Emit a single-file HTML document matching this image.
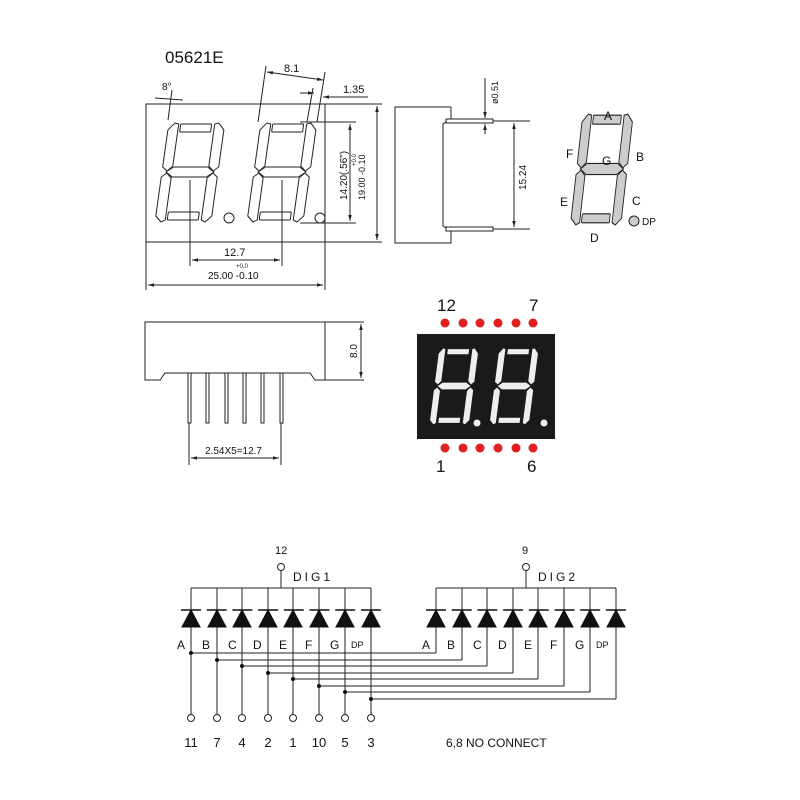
<!DOCTYPE html>
<html><head><meta charset="utf-8"><style>
html,body{margin:0;padding:0;background:#fff}
svg{display:block}
text{font-family:"Liberation Sans",sans-serif;fill:#111}
.o{fill:#fff;stroke:#222;stroke-width:1}
.l{stroke:#222;stroke-width:1;fill:none}
</style></head><body>
<svg width="800" height="800" viewBox="0 0 800 800" xmlns="http://www.w3.org/2000/svg">
<defs>
<g id="dig">
<rect x="12" y="2" width="31" height="8" rx="1"/>
<polygon points="0,8 6,1 10,2 10,44 5,49 0,45"/>
<polygon points="56,8 50,1 46,2 46,44 51,49 56,45"/>
<polygon points="4,50 11,45 45,45 52,50 45,55 11,55"/>
<polygon points="0,55 5,51 10,56 10,98 6,100 0,94"/>
<polygon points="56,55 51,51 46,56 46,98 50,100 56,94"/>
<rect x="12" y="90" width="31" height="8" rx="1"/>
</g>
<marker id="ar" viewBox="0 0 10 10" refX="10" refY="5" markerWidth="6" markerHeight="6" orient="auto-start-reverse"><path d="M0,2 L10,5 L0,8 z" fill="#222"/></marker>
</defs>

<text x="165" y="63" font-size="17">05621E</text>

<rect x="146" y="104" width="179" height="138" class="o"/>
<g class="o" transform="translate(169,122) skewX(-8)"><use href="#dig"/></g>
<g class="o" transform="translate(261,122) skewX(-8)"><use href="#dig"/></g>
<circle cx="229" cy="218" r="5" class="o"/>
<circle cx="320" cy="218" r="5" class="o"/>
<line x1="325" y1="104" x2="382" y2="104" class="l"/>
<line x1="325" y1="242" x2="382" y2="242" class="l"/>
<line x1="377" y1="106" x2="377" y2="240" class="l" marker-start="url(#ar)" marker-end="url(#ar)"/>
<line x1="300" y1="122" x2="356" y2="122" class="l"/>
<line x1="300" y1="223" x2="356" y2="223" class="l"/>
<line x1="350" y1="124" x2="350" y2="221" class="l" marker-start="url(#ar)" marker-end="url(#ar)"/>
<text transform="translate(347,200) rotate(-90)" font-size="10">14.20(.56")</text>
<text transform="translate(365,200) rotate(-90)" font-size="9">19.00 -0.10</text>
<text transform="translate(356,166) rotate(-90)" font-size="6">+0.0</text>
<line x1="190" y1="180" x2="190" y2="266" class="l"/>
<line x1="282" y1="180" x2="282" y2="266" class="l"/>
<line x1="192" y1="260" x2="280" y2="260" class="l" marker-start="url(#ar)" marker-end="url(#ar)"/>
<text x="224" y="256" font-size="11">12.7</text>
<text x="236" y="268" font-size="6">+0.0</text>
<text x="208" y="279" font-size="10">25.00 -0.10</text>
<line x1="146" y1="242" x2="146" y2="290" class="l"/>
<line x1="325" y1="242" x2="325" y2="290" class="l"/>
<line x1="148" y1="285" x2="323" y2="285" class="l" marker-start="url(#ar)" marker-end="url(#ar)"/>
<line x1="168" y1="120" x2="172" y2="90" class="l"/>
<line x1="155" y1="98" x2="183" y2="100" class="l"/>
<text x="162" y="90" font-size="10">8°</text>
<line x1="258" y1="122" x2="266" y2="66" class="l"/>
<line x1="317" y1="122" x2="325" y2="72" class="l"/>
<line x1="267" y1="72" x2="323" y2="80" class="l" marker-start="url(#ar)" marker-end="url(#ar)"/>
<text x="284" y="72" font-size="11">8.1</text>
<line x1="300" y1="93" x2="314" y2="93" class="l" marker-end="url(#ar)"/>
<line x1="323" y1="97" x2="368" y2="97" class="l" marker-start="url(#ar)"/>
<line x1="313" y1="88" x2="307" y2="122" class="l"/>
<text x="343" y="93" font-size="11">1.35</text>

<polyline points="451,107 395,107 395,243 451,243 451,229" class="l"/>
<line x1="451" y1="107" x2="451" y2="120" class="l"/>
<polyline points="451,120 446,122 443,124 443,226 446,228 451,230" class="l"/>
<rect x="446" y="119" width="47" height="4" class="o"/>
<rect x="446" y="227" width="47" height="4" class="o"/>
<line x1="493" y1="121" x2="530" y2="121" class="l"/>
<line x1="493" y1="229" x2="530" y2="229" class="l"/>
<line x1="514" y1="123" x2="514" y2="227" class="l" marker-start="url(#ar)" marker-end="url(#ar)"/>
<text transform="translate(526,190) rotate(-90)" font-size="10">15.24</text>
<line x1="485" y1="78" x2="485" y2="118" class="l" marker-end="url(#ar)"/>
<line x1="485" y1="134" x2="485" y2="124" class="l" marker-end="url(#ar)"/>
<text transform="translate(498,104) rotate(-90)" font-size="9">ø0.51</text>

<g fill="#ccc" stroke="#222" stroke-width="1" transform="translate(583,113) scale(0.9,1.12) skewX(-8)"><use href="#dig"/></g>
<circle cx="634" cy="221" r="5" fill="#ccc" stroke="#222"/>
<text x="604" y="120" font-size="12">A</text>
<text x="636" y="161" font-size="12">B</text>
<text x="566" y="158" font-size="12">F</text>
<text x="602" y="165" font-size="12">G</text>
<text x="560" y="206" font-size="12">E</text>
<text x="632" y="205" font-size="12">C</text>
<text x="590" y="242" font-size="12">D</text>
<text x="642" y="225" font-size="10">DP</text>

<polyline points="325,322 145,322 145,380 160,380 165,373 310,373 315,380 325,380 325,322" class="l"/>
<line x1="325" y1="322" x2="364" y2="322" class="l"/>
<line x1="325" y1="380" x2="364" y2="380" class="l"/>
<line x1="361" y1="324" x2="361" y2="378" class="l" marker-start="url(#ar)" marker-end="url(#ar)"/>
<text transform="translate(357,358) rotate(-90)" font-size="10">8.0</text>
<g class="o">
<rect x="188" y="373" width="3" height="50"/><rect x="206" y="373" width="3" height="50"/><rect x="225" y="373" width="3" height="50"/>
<rect x="243" y="373" width="3" height="50"/><rect x="261" y="373" width="3" height="50"/><rect x="280" y="373" width="3" height="50"/>
</g>
<line x1="189" y1="423" x2="189" y2="465" class="l"/>
<line x1="281" y1="423" x2="281" y2="465" class="l"/>
<line x1="191" y1="458" x2="279" y2="458" class="l" marker-start="url(#ar)" marker-end="url(#ar)"/>
<text x="205" y="454" font-size="10">2.54X5=12.7</text>

<rect x="417" y="334" width="138" height="105" fill="#1a1a1a"/>
<g fill="#eee" stroke="#1a1a1a" stroke-width="1.5" transform="translate(439,347) scale(0.72,0.78) skewX(-8)"><use href="#dig"/></g>
<g fill="#eee" stroke="#1a1a1a" stroke-width="1.5" transform="translate(499,347) scale(0.72,0.78) skewX(-8)"><use href="#dig"/></g>
<circle cx="477" cy="423" r="3.5" fill="#eee"/>
<circle cx="544" cy="423" r="3.5" fill="#eee"/>
<g fill="#e02020">
<circle cx="445" cy="323" r="4.5"/><circle cx="463" cy="323" r="4.5"/><circle cx="480" cy="323" r="4.5"/><circle cx="498" cy="323" r="4.5"/><circle cx="516" cy="323" r="4.5"/><circle cx="533" cy="323" r="4.5"/>
<circle cx="445" cy="448" r="4.5"/><circle cx="463" cy="448" r="4.5"/><circle cx="480" cy="448" r="4.5"/><circle cx="498" cy="448" r="4.5"/><circle cx="516" cy="448" r="4.5"/><circle cx="533" cy="448" r="4.5"/>
</g>
<text x="437" y="311" font-size="17">12</text>
<text x="529" y="311" font-size="17">7</text>
<text x="436" y="472" font-size="17">1</text>
<text x="527" y="472" font-size="17">6</text>

<g class="l">
<line x1="191" y1="588" x2="371" y2="588"/>
<line x1="436" y1="588" x2="616" y2="588"/>
<line x1="281" y1="571" x2="281" y2="588"/>
<line x1="526" y1="571" x2="526" y2="588"/>
<circle cx="281" cy="567" r="3.5" fill="#fff"/>
<circle cx="526" cy="567" r="3.5" fill="#fff"/>
</g>
<text x="275" y="554" font-size="11">12</text>
<text x="522" y="554" font-size="11">9</text>
<text x="293" y="581" font-size="12" letter-spacing="3">DIG1</text>
<text x="538" y="581" font-size="12" letter-spacing="3">DIG2</text>

<g stroke="#222" stroke-width="1">
<line x1="191" y1="588" x2="191" y2="714"/><line x1="217" y1="588" x2="217" y2="714"/><line x1="242" y1="588" x2="242" y2="714"/><line x1="268" y1="588" x2="268" y2="714"/>
<line x1="293" y1="588" x2="293" y2="714"/><line x1="319" y1="588" x2="319" y2="714"/><line x1="345" y1="588" x2="345" y2="714"/><line x1="371" y1="588" x2="371" y2="714"/>
<line x1="436" y1="588" x2="436" y2="653"/><line x1="462" y1="588" x2="462" y2="660"/><line x1="487" y1="588" x2="487" y2="666"/><line x1="513" y1="588" x2="513" y2="673"/>
<line x1="538" y1="588" x2="538" y2="679"/><line x1="564" y1="588" x2="564" y2="686"/><line x1="590" y1="588" x2="590" y2="692"/><line x1="616" y1="588" x2="616" y2="699"/>
<line x1="191" y1="653" x2="436" y2="653"/><line x1="217" y1="660" x2="462" y2="660"/><line x1="242" y1="666" x2="487" y2="666"/><line x1="268" y1="673" x2="513" y2="673"/>
<line x1="293" y1="679" x2="538" y2="679"/><line x1="319" y1="686" x2="564" y2="686"/><line x1="345" y1="692" x2="590" y2="692"/><line x1="371" y1="699" x2="616" y2="699"/>
</g>
<g fill="#111">
<circle cx="191" cy="653" r="2"/><circle cx="217" cy="660" r="2"/><circle cx="242" cy="666" r="2"/><circle cx="268" cy="673" r="2"/>
<circle cx="293" cy="679" r="2"/><circle cx="319" cy="686" r="2"/><circle cx="345" cy="692" r="2"/><circle cx="371" cy="699" r="2"/>
</g>
<g fill="#111" stroke="#111" stroke-width="1">
<polygon points="191,610 182,627 200,627"/><polygon points="217,610 208,627 226,627"/><polygon points="242,610 233,627 251,627"/><polygon points="268,610 259,627 277,627"/>
<polygon points="293,610 284,627 302,627"/><polygon points="319,610 310,627 328,627"/><polygon points="345,610 336,627 354,627"/><polygon points="371,610 362,627 380,627"/>
<polygon points="436,610 427,627 445,627"/><polygon points="462,610 453,627 471,627"/><polygon points="487,610 478,627 496,627"/><polygon points="513,610 504,627 522,627"/>
<polygon points="538,610 529,627 547,627"/><polygon points="564,610 555,627 573,627"/><polygon points="590,610 581,627 599,627"/><polygon points="616,610 607,627 625,627"/>
</g>
<line x1="181" y1="610" x2="381" y2="610" stroke="#111" stroke-width="1.5" stroke-dasharray="20,5.7"/>
<line x1="426" y1="610" x2="626" y2="610" stroke="#111" stroke-width="1.5" stroke-dasharray="20,5.7"/>
<g font-size="12">
<text x="177" y="649">A</text><text x="202" y="649">B</text><text x="228" y="649">C</text><text x="253" y="649">D</text>
<text x="279" y="649">E</text><text x="305" y="649">F</text><text x="330" y="649">G</text><text x="351" y="648" font-size="9">DP</text>
<text x="422" y="649">A</text><text x="447" y="649">B</text><text x="473" y="649">C</text><text x="498" y="649">D</text>
<text x="524" y="649">E</text><text x="550" y="649">F</text><text x="575" y="649">G</text><text x="596" y="648" font-size="9">DP</text>
</g>
<g class="l">
<circle cx="191" cy="718" r="3.5" fill="#fff"/><circle cx="217" cy="718" r="3.5" fill="#fff"/><circle cx="242" cy="718" r="3.5" fill="#fff"/><circle cx="268" cy="718" r="3.5" fill="#fff"/>
<circle cx="293" cy="718" r="3.5" fill="#fff"/><circle cx="319" cy="718" r="3.5" fill="#fff"/><circle cx="345" cy="718" r="3.5" fill="#fff"/><circle cx="371" cy="718" r="3.5" fill="#fff"/>
</g>
<g font-size="13" text-anchor="middle">
<text x="191" y="747">11</text><text x="217" y="747">7</text><text x="242" y="747">4</text><text x="268" y="747">2</text>
<text x="293" y="747">1</text><text x="319" y="747">10</text><text x="345" y="747">5</text><text x="371" y="747">3</text>
</g>
<text x="446" y="747" font-size="12">6,8 NO CONNECT</text>
</svg>
</body></html>
